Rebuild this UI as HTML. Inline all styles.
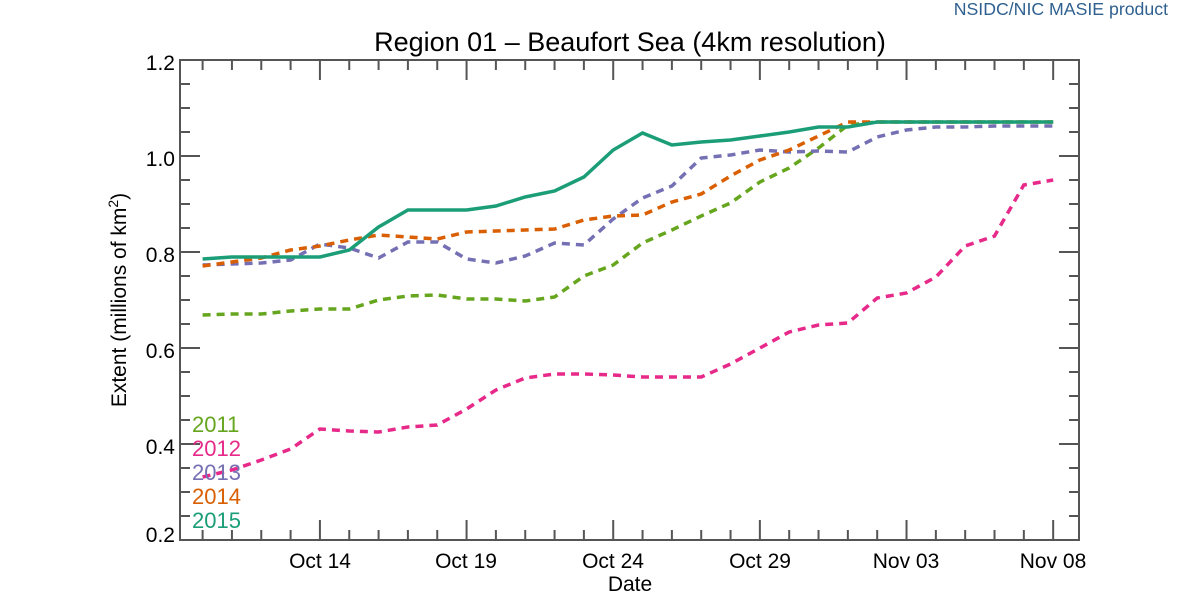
<!DOCTYPE html>
<html><head><meta charset="utf-8"><style>body{margin:0;background:#fff}</style></head><body>
<svg width="1200" height="600" xmlns="http://www.w3.org/2000/svg" font-family="Liberation Sans, sans-serif">
<rect width="1200" height="600" fill="#fff"/>
<text x="1168" y="15" text-anchor="end" font-size="17.7" fill="#2f6090">NSIDC/NIC MASIE product</text>
<text x="630" y="51" text-anchor="middle" font-size="27" fill="#000">Region 01 – Beaufort Sea (4km resolution)</text>
<g stroke="#555" stroke-width="2" fill="none">
<rect x="180" y="60" width="899" height="480"/>
<path d="M180 156h20M180 252h20M180 348h20M180 444h20M1079 156h-20M1079 252h-20M1079 348h-20M1079 444h-20"/>
<path d="M180 84h10M180 108h10M180 132h10M180 180h10M180 204h10M180 228h10M180 276h10M180 300h10M180 324h10M180 372h10M180 396h10M180 420h10M180 468h10M180 492h10M180 516h10M1079 84h-10M1079 108h-10M1079 132h-10M1079 180h-10M1079 204h-10M1079 228h-10M1079 276h-10M1079 300h-10M1079 324h-10M1079 372h-10M1079 396h-10M1079 420h-10M1079 468h-10M1079 492h-10M1079 516h-10"/>
</g>
<g id="xt" stroke="#555" stroke-width="2"></g>
<g font-size="21" fill="#000" text-anchor="end">
<text x="175" y="70">1.2</text><text x="175" y="166">1.0</text><text x="175" y="262">0.8</text><text x="175" y="358">0.6</text><text x="175" y="454">0.4</text><text x="175" y="542">0.2</text>
</g>
<g font-size="21" fill="#000" text-anchor="middle">
<text x="320" y="568">Oct 14</text><text x="466" y="568">Oct 19</text><text x="613" y="568">Oct 24</text><text x="760" y="568">Oct 29</text><text x="906" y="568">Nov 03</text><text x="1053" y="568">Nov 08</text>
<text x="630" y="591">Date</text>
</g>
<text transform="translate(126,300) rotate(-90)" text-anchor="middle" font-size="21">Extent (millions of km<tspan dy="-8" font-size="14">2</tspan><tspan dy="8">)</tspan></text>
<g fill="none" stroke-width="3.5">
<polyline id="p2012" stroke="#e7298a" stroke-dasharray="8,6" points=""/>
<polyline id="p2011" stroke="#66a61e" stroke-dasharray="8,6" points=""/>
<polyline id="p2013" stroke="#7570b3" stroke-dasharray="8,6" points=""/>
<polyline id="p2014" stroke="#d95f02" stroke-dasharray="8,6" points=""/>
<polyline id="p2015" stroke="#1b9e77" points=""/>
</g>
<g font-size="22">
<text x="192" y="432" fill="#66a61e">2011</text>
<text x="192" y="456" fill="#e7298a">2012</text>
<text x="192" y="480" fill="#7570b3">2013</text>
<text x="192" y="504" fill="#d95f02">2014</text>
<text x="192" y="528" fill="#1b9e77">2015</text>
</g>
</svg>
<script>
var X=i=>202.6+29.33*i;
var d={
p2015:[259,257,257,257,257,250,227,210,210,210,206,197,191,177,150,133,145,142,140,136,132,127,127,122,122,122,122,122,122,122],
p2014:[266,262,258,250,246,240,235,237,239,232,231,230,229,220,216,215,202,194,176,160,150,136,122,122,122,122,122,122,122,122],
p2013:[265,264,263,260,244,248,258,242,242,259,263,256,243,245,219,198,186,158,155,150,152,151,152,137,130,127,127,126,126,126],
p2011:[315,314,314,311,309,309,300,296,295,299,299,301,297,276,265,243,230,216,203,182,168,148,125,122,122,122,122,122,122,122],
p2012:[477,470,460,449,429,431,432,427,425,409,390,378,374,374,375,377,377,377,364,348,332,325,323,298,293,277,246,236,185,180]};
for(var k in d){document.getElementById(k).setAttribute('points',d[k].map((y,i)=>X(i).toFixed(1)+','+y).join(' '));}
var g=document.getElementById('xt'),s='';
for(var i=-1;i<30;i++){var x=X(i);if(x<181)continue;var L=((i-4)%5==0)?20:10;s+='M'+x+' 540v-'+L+'M'+x+' 60v'+L;}
var p=document.createElementNS('http://www.w3.org/2000/svg','path');p.setAttribute('d',s);p.setAttribute('fill','none');g.appendChild(p);
</script>
</body></html>
